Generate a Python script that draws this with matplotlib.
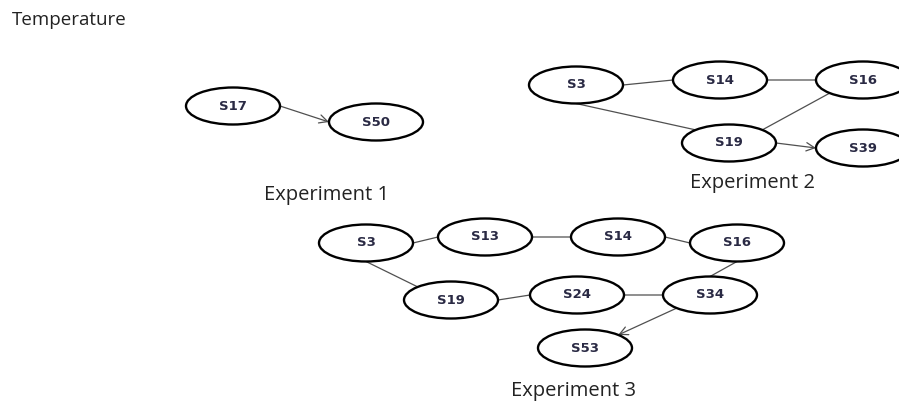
import numpy as np
import matplotlib
matplotlib.use("Agg")
import matplotlib.pyplot as plt
from matplotlib.patches import Ellipse

# 节点: (实验, 名称, x, y)  -- 像素坐标, y 向下
exp_ids = [1, 1, 2, 2, 2, 2, 2, 3, 3, 3, 3, 3, 3, 3, 3]
node_names = ["S17", "S50",
              "S3", "S14", "S16", "S19", "S39",
              "S3", "S13", "S14", "S16", "S19", "S24", "S34", "S53"]
node_x = [233, 376, 576, 720, 863, 729, 863, 366, 485, 618, 737, 451, 577, 710, 585]
node_y = [106, 122, 85, 80, 80, 143, 148, 243, 237, 237, 243, 300, 295, 295, 348]

# 边: (实验, 起点, 起点连接点, 终点, 终点连接点, 是否箭头)
edges = [
    (1, "S17", "E", "S50", "W", True),
    (2, "S3", "E", "S14", "W", False),
    (2, "S14", "E", "S16", "W", False),
    (2, "S3", "S", "S19", "NW", False),
    (2, "S19", "NE", "S16", "SW", False),
    (2, "S19", "E", "S39", "W", True),
    (3, "S3", "E", "S13", "W", False),
    (3, "S13", "E", "S14", "W", False),
    (3, "S14", "E", "S16", "W", False),
    (3, "S3", "S", "S19", "NW", False),
    (3, "S19", "E", "S24", "W", False),
    (3, "S24", "E", "S34", "W", False),
    (3, "S16", "S", "S34", "N", False),
    (3, "S34", "SW", "S53", "NE", True),
]

exp_labels = ["Experiment 1", "Experiment 2", "Experiment 3"]
exp_label_x = [327, 753, 574]
exp_label_y = [195, 183, 391]

SITES = {"E": 0, "NE": 45, "N": 90, "NW": 135, "W": 180, "SW": 225, "S": 270, "SE": 315}
A, B = 47, 18.5  # 椭圆半轴


def site_point(exp, name, site):
    for e, n, x, y in zip(exp_ids, node_names, node_x, node_y):
        if e == exp and n == name:
            t = np.deg2rad(SITES[site])
            return x + A * np.cos(t), y - B * np.sin(t)
    raise KeyError(name)


fig = plt.figure(figsize=(8.99, 4.03), dpi=100)
ax = fig.add_axes([0, 0, 1, 1])
ax.set_xlim(0, 899)
ax.set_ylim(403, 0)
ax.axis("off")

# 画边
for exp, a, sa, b, sb, arrow in edges:
    p0 = site_point(exp, a, sa)
    p1 = site_point(exp, b, sb)
    ax.annotate("", xy=p1, xytext=p0,
                arrowprops=dict(arrowstyle="->,head_length=0.6,head_width=0.3" if arrow else "-",
                                color="#505050", lw=0.9, shrinkA=0, shrinkB=0))

# 画节点
for x, y, name in zip(node_x, node_y, node_names):
    ax.add_patch(Ellipse((x, y), 2 * A, 2 * B, facecolor="white",
                         edgecolor="black", lw=1.7, zorder=3))
    ax.text(x, y, name, ha="center", va="center", fontsize=9.5,
            fontweight="bold", color="#2a2a44", family="DejaVu Sans", zorder=4)

for lab, x, y in zip(exp_labels, exp_label_x, exp_label_y):
    ax.text(x, y, lab, ha="center", va="center", fontsize=14.5,
            color="#222222", family="Open Sans")

ax.text(12, 20, "Temperature", ha="left", va="center", fontsize=13.5,
        color="#222222", family="Open Sans")

fig.savefig("out.png", dpi=100)
